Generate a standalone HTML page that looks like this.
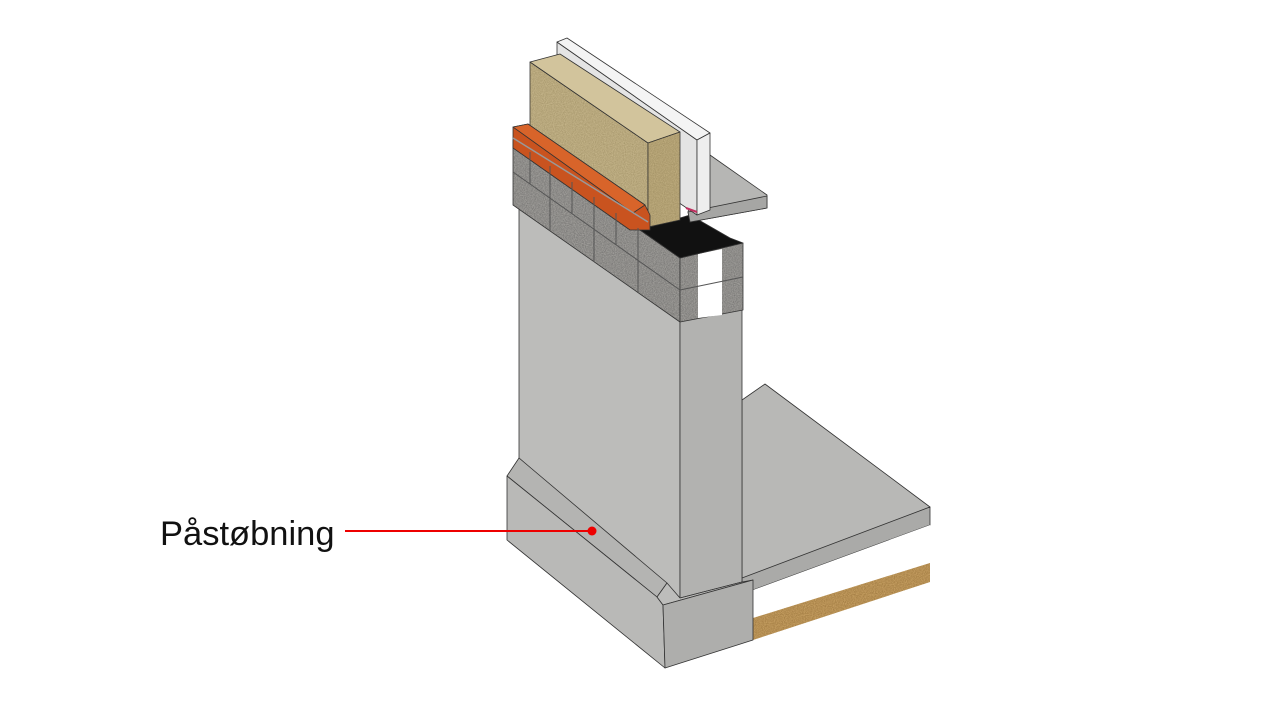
<!DOCTYPE html>
<html><head><meta charset="utf-8"><style>
html,body{margin:0;padding:0;background:#fff;width:1280px;height:720px;overflow:hidden}
svg{display:block}
</style></head><body>
<svg width="1280" height="720" viewBox="0 0 1280 720" xmlns="http://www.w3.org/2000/svg">
<defs>
<filter id="n" x="0" y="0" width="100%" height="100%">
<feTurbulence type="fractalNoise" baseFrequency="0.9" numOctaves="2" result="t"/>
<feColorMatrix in="t" type="matrix" values="0 0 0 0 0  0 0 0 0 0  0 0 0 0 0  0 0 0 -1.2 1.1" result="a"/>
<feComposite in="SourceGraphic" in2="a" operator="in"/>
</filter>
</defs>
<g stroke="#333" stroke-width="0.8" stroke-linejoin="round">
<!-- slab -->
<polygon points="742,400 765,384 930,507 742,580" fill="#b8b8b6"/>
<polygon points="742,578 930,507 930,525 742,594" fill="#aaaaa8"/>
<polygon points="753,590 930,525 930,563 753,618" fill="#ffffff" stroke="none"/>
<polygon points="753,618 930,563 930,582 753,640" fill="#cfa86a" stroke="none"/>
<polygon points="753,618 930,563 930,582 753,640" fill="#7a5520" opacity="0.6" filter="url(#n)" stroke="none"/>
<!-- wall -->
<polygon points="519,200 680,320 680,598 519,458" fill="#bcbcba"/>
<polygon points="680,320 742,308 742,582 680,598" fill="#b2b2b0"/>
<!-- footing -->
<polygon points="519,458 667,583 657,597 507,476" fill="#b4b4b2"/>
<polygon points="507,476 657,597 663,605 665,668 507,540" fill="#b9b9b7"/>
<polygon points="657,597 667,583 680,598 742,582 753,580 663,605" fill="#bdbdbb"/>
<polygon points="663,605 753,580 753,640 665,668" fill="#aeaeac"/>
<!-- blocks -->
<polygon points="513,140 640,230 680,258 680,322 513,205" fill="#aaa8a4"/>
<polygon points="513,140 640,230 680,258 680,322 513,205" fill="#444" opacity="0.55" filter="url(#n)" stroke="none"/>
<polygon points="680,258 743,243 743,310 680,322" fill="#aaa8a4"/>
<polygon points="680,258 743,243 743,310 680,322" fill="#444" opacity="0.55" filter="url(#n)" stroke="none"/>
<polygon points="698,254 722,249 722,315 698,318" fill="#fff" stroke="none"/>
<polygon points="640,230 690,215 730,238 743,243 680,258" fill="#111"/>
<!-- deck -->
<polygon points="700,160 710,155 767,195 767,208 690,222 688,212" fill="#b6b6b4"/>
<polygon points="688,212 767,196 767,208 690,222" fill="#a6a6a4"/>
<!-- white board -->
<polygon points="557,42 697,140 697,215 557,120" fill="#e4e4e4"/>
<polygon points="557,42 567,38 710,133 697,140" fill="#f4f4f4"/>
<polygon points="697,140 710,133 710,210 697,215" fill="#eeeeee"/>
<line x1="686" y1="208" x2="697" y2="212" stroke="#c03060" stroke-width="2"/>
<!-- mineral wool -->
<polygon points="530,62 648,143 648,227 530,140" fill="#cbbb90"/>
<polygon points="530,62 648,143 648,227 530,140" fill="#6a5a30" opacity="0.4" filter="url(#n)" stroke="none"/>
<polygon points="530,62 560,54 680,132 648,143" fill="#d2c49c"/>
<polygon points="648,143 680,132 680,220 648,227" fill="#c4b284"/>
<polygon points="648,143 680,132 680,220 648,227" fill="#6a5a30" opacity="0.4" filter="url(#n)" stroke="none"/>
<!-- bricks -->
<polygon points="513,127 528,124 645,205 650,215 650,230 630,230 513,148" fill="#c9531f"/>
<polygon points="513,127 528,124 645,205 633,213" fill="#d8642a"/>
</g>
<g stroke="#999" stroke-width="1.5" fill="none">
<line x1="513" y1="138" x2="648" y2="222"/>
</g>
<g stroke="#555" stroke-width="1" fill="none">
<line x1="513" y1="172" x2="680" y2="290"/>
<line x1="680" y1="290" x2="743" y2="277"/>
<line x1="550" y1="166" x2="550" y2="231"/>
<line x1="594" y1="197" x2="594" y2="262"/>
<line x1="638" y1="228" x2="638" y2="292"/>
<line x1="530" y1="152" x2="530" y2="184"/>
<line x1="572" y1="182" x2="572" y2="214"/>
<line x1="616" y1="213" x2="616" y2="245"/>
</g>
<line x1="345" y1="531" x2="592" y2="531" stroke="#e00" stroke-width="2"/>
<circle cx="592" cy="531" r="4.5" fill="#e00"/>
<text x="160" y="545" font-family="Liberation Sans, sans-serif" font-size="34.5" fill="#111">Påstøbning</text>
</svg>
</body></html>
